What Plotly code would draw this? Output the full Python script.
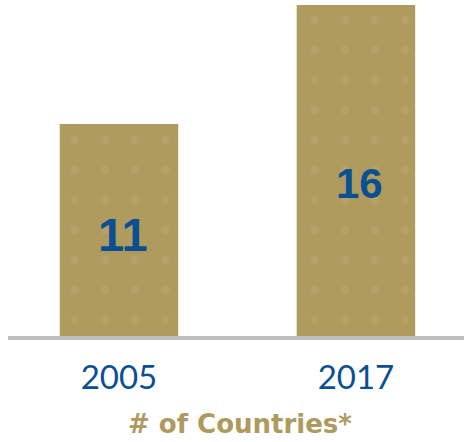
import plotly.graph_objects as go

categories = ["2005", "2017"]
values = [11, 16]
value_labels = ["11", "16"]
axis_title = "# of Countries*"

bar_color = "#B09B5F"
blue = "#0B4F93"
gold = "#AE9A5F"

fig = go.Figure()
fig.add_trace(go.Bar(
    x=categories,
    y=values,
    width=0.5,
    marker=dict(
        color=bar_color,
        line=dict(width=0),
        pattern=dict(shape=".", fgcolor="#C4B27E", fgopacity=0.3, size=30, solidity=0.06),
    ),
    hoverinfo="skip",
))

# value labels placed inside the bars
label_pos = [0.577, 0.53]
label_sizes = [47, 42]
for i, (v, t, p, s) in enumerate(zip(values, value_labels, label_pos, label_sizes)):
    fig.add_annotation(x=i, y=v * p, xref="x", yref="y", text=t,
                       showarrow=False, xshift=4,
                       font=dict(family="Arial", size=s, color=blue, weight="bold"))

fig.add_annotation(x=240 / 464, y=-0.265, xref="paper", yref="paper",
                   text=axis_title, showarrow=False, yanchor="middle",
                   font=dict(family="DejaVu Sans", size=26, color=gold, weight="bold"))

# baseline
fig.add_shape(type="line", xref="paper", yref="paper", x0=8 / 464, x1=1,
              y0=-2 / 331, y1=-2 / 331, line=dict(color="#BFBFBF", width=4))

fig.update_layout(
    width=464, height=442,
    margin=dict(l=0, r=0, t=5, b=106),
    plot_bgcolor="white", paper_bgcolor="white",
    showlegend=False,
    xaxis=dict(type="category", range=[-0.502, 1.456], showgrid=False, zeroline=False,
               showline=False, ticks="", ticklabelstandoff=19,
               tickfont=dict(family="Lato", size=33, color=blue)),
    yaxis=dict(range=[2.09, 16], visible=False, showgrid=False, zeroline=False),
)

fig.write_html("out.html", config={"displayModeBar": False},
               post_script="document.body.style.margin='0';")
